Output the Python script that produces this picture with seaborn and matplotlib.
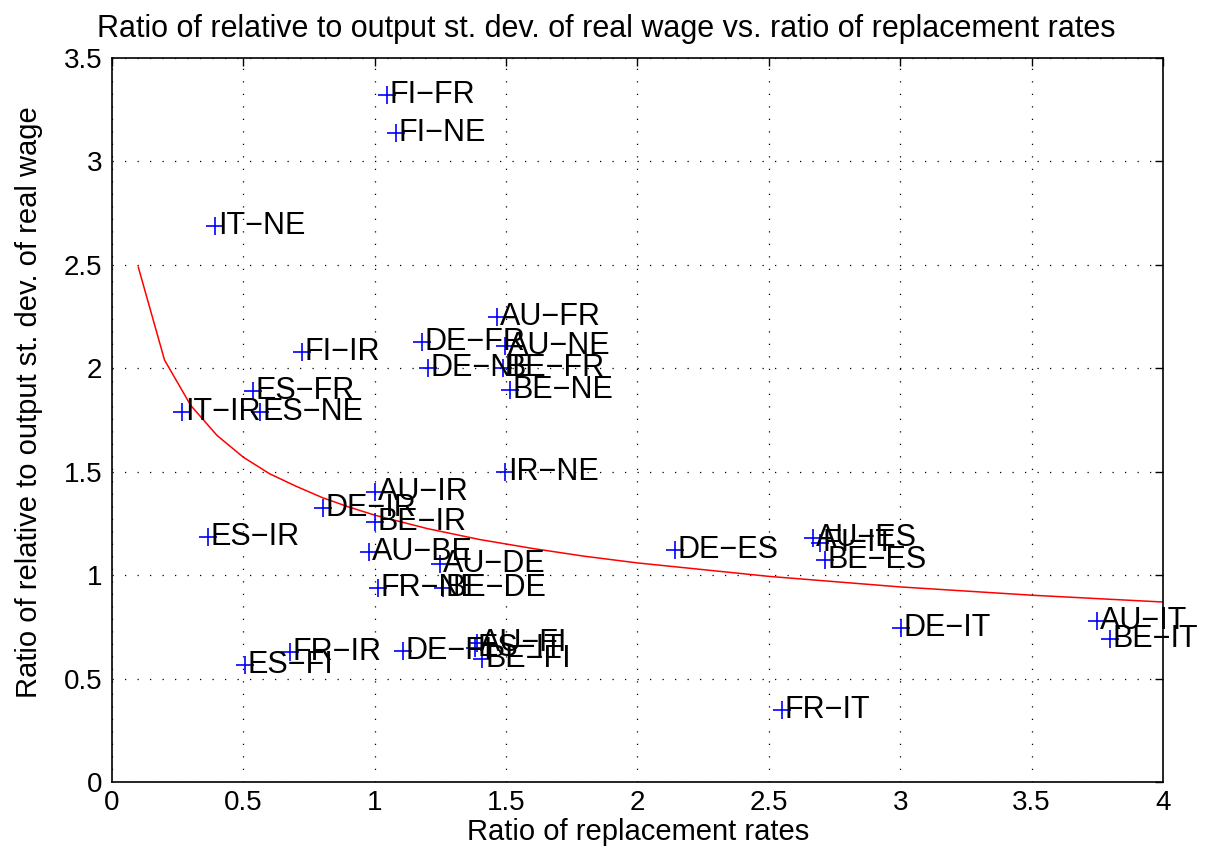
"""
Ratio of relative-to-output st. dev. of real wage vs ratio of replacement rates
"""

import matplotlib
matplotlib.use("Agg")
import matplotlib.pyplot as plt
import seaborn as sns
import pandas as pd
import numpy as np

# country pairs and values
pairs = ["FI-FR", "FI-NE", "IT-NE", "AU-FR", "DE-FR", "AU-NE", "DE-NE", "BE-FR",
         "BE-NE", "IR-NE", "AU-IR", "FI-IR", "ES-FR", "IT-IR", "ES-NE", "DE-IR",
         "BE-IR", "ES-IR", "AU-BE", "AU-DE", "FR-NE", "BE-DE", "DE-FI", "AU-FI",
         "ES-IT", "BE-FI", "FR-IR", "ES-FI", "DE-ES", "AU-ES", "FI-IT", "BE-ES",
         "DE-IT", "AU-IT", "BE-IT", "FR-IT"]
repl_ratio = [1.047, 1.081, 0.392, 1.465, 1.180, 1.496, 1.203, 1.488,
              1.515, 1.496, 1.001, 0.723, 0.537, 0.266, 0.563, 0.803,
              1.001, 0.366, 0.978, 1.248, 1.012, 1.260, 1.108, 1.390,
              1.380, 1.410, 0.677, 0.506, 2.143, 2.668, 2.695, 2.714,
              3.003, 3.749, 3.798, 2.550]
wage_ratio = [3.32, 3.137, 2.69, 2.247, 2.127, 2.11, 2.00, 2.00,
              1.895, 1.50, 1.40, 2.08, 1.89, 1.79, 1.79, 1.324,
              1.257, 1.184, 1.112, 1.054, 0.938, 0.938, 0.633, 0.67,
              0.65, 0.595, 0.628, 0.565, 1.121, 1.18, 1.155, 1.073,
              0.744, 0.778, 0.69, 0.348]

# fitted curve
fit_x = [0.1, 0.2, 0.3, 0.4, 0.5, 0.6, 0.7, 0.8, 0.9, 1.0, 1.2, 1.4, 1.6, 1.8,
         2.0, 2.5, 3.0, 3.5, 4.0]
fit_y = [2.49, 2.04, 1.82, 1.675, 1.57, 1.49, 1.43, 1.375, 1.33, 1.29, 1.225,
         1.172, 1.129, 1.091, 1.059, 0.994, 0.943, 0.903, 0.87]

x_ticks = [0, 0.5, 1, 1.5, 2, 2.5, 3, 3.5, 4]
x_tick_labels = ["0", "0.5", "1", "1.5", "2", "2.5", "3", "3.5", "4"]
y_ticks = [0, 0.5, 1, 1.5, 2, 2.5, 3, 3.5]
y_tick_labels = ["0", "0.5", "1", "1.5", "2", "2.5", "3", "3.5"]

sns.set_style("white")
plt.rcParams['font.family'] = ['Liberation Sans', 'DejaVu Sans']
plt.rcParams['xtick.direction'] = 'in'
plt.rcParams['ytick.direction'] = 'in'
plt.rcParams['text.color'] = 'black'
plt.rcParams['xtick.color'] = 'black'
plt.rcParams['ytick.color'] = 'black'
plt.rcParams['axes.labelcolor'] = 'black'

df = pd.DataFrame({"pair": pairs, "x": repl_ratio, "y": wage_ratio})
fit = pd.DataFrame({"x": fit_x, "y": fit_y})

fig = plt.figure(figsize=(12.13, 8.6), dpi=100)
ax = fig.add_axes([0.0923, 0.0907, 0.8665, 0.8419])

sns.lineplot(data=fit, x="x", y="y", ax=ax, color="red", linewidth=1.1,
             sort=False)
sns.scatterplot(data=df, x="x", y="y", ax=ax, marker="+", color="blue",
                s=170, linewidth=1.2, zorder=3)

for _, row in df.iterrows():
    ax.annotate(row["pair"].replace("-", "\u2212"), (row["x"], row["y"]),
                xytext=(2, 0), textcoords="offset points",
                ha="left", va="center", fontsize=22, color="black", zorder=4)

ax.set_xlim(0, 4)
ax.set_ylim(0, 3.5)
ax.set_xticks(x_ticks)
ax.set_xticklabels(x_tick_labels, fontsize=20)
ax.set_yticks(y_ticks)
ax.set_yticklabels(y_tick_labels, fontsize=20)
ax.tick_params(top=True, right=True, length=6, width=1, color="black",
               labelcolor="black")
ax.tick_params(axis="x", pad=6)
ax.tick_params(axis="y", pad=7)
ax.grid(True, linestyle=(0, (1, 9)), color="black", linewidth=0.9)
ax.set_xlabel("")
ax.set_ylabel("")

for s in ax.spines.values():
    s.set_color("black")
    s.set_linewidth(1.2)

fig.text(0.526, 0.0233, "Ratio of replacement rates", fontsize=21,
         ha="center", va="baseline")
fig.text(0.024, 0.5326, "Ratio of relative to output st. dev. of real wage",
         fontsize=21, rotation=90, ha="center", va="center")
fig.text(0.5, 0.957,
         "Ratio of relative to output st. dev. of real wage vs. ratio of replacement rates",
         fontsize=22, ha="center", va="baseline")

fig.savefig("out.png", dpi=100)
